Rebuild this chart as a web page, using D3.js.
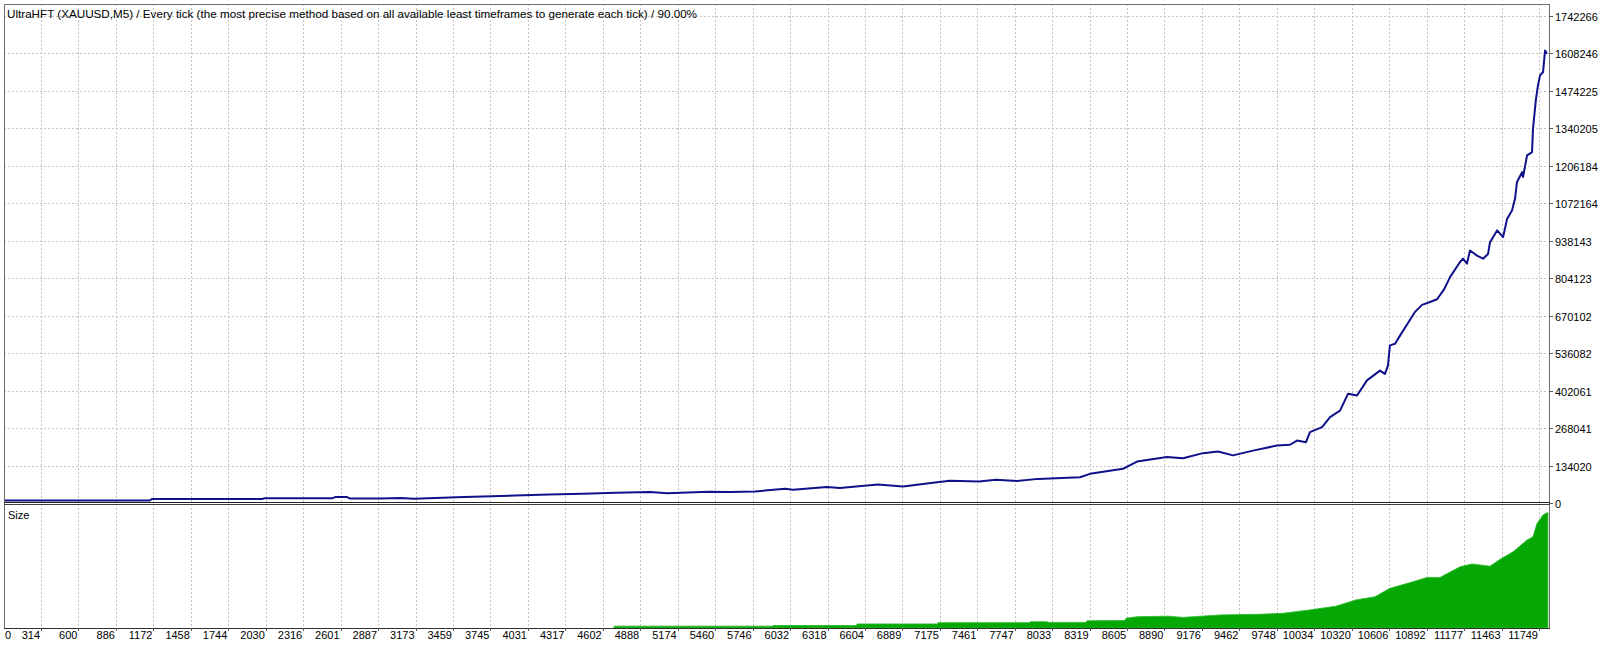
<!DOCTYPE html>
<html>
<head>
<meta charset="utf-8">
<script src="https://cdn.jsdelivr.net/npm/d3@7/dist/d3.min.js"></script>
<style>
  html, body { margin: 0; padding: 0; background: #fff; }
  svg text { font-family: "Liberation Sans", Arial, sans-serif; font-size: 11px; fill: #000; }
</style>
</head>
<body>
<svg id="chart" width="1600" height="646"></svg>
<script>
// title of the tester report
var title = "UltraHFT (XAUUSD,M5) / Every tick (the most precise method based on all available least timeframes to generate each tick) / 90.00%";

// trade numbers printed under the chart
var tradeTicks = [0, 314, 600, 886, 1172, 1458, 1744, 2030, 2316, 2601, 2887, 3173, 3459, 3745, 4031, 4317,
  4602, 4888, 5174, 5460, 5746, 6032, 6318, 6604, 6889, 7175, 7461, 7747, 8033, 8319, 8605, 8890, 9176,
  9462, 9748, 10034, 10320, 10606, 10892, 11177, 11463, 11749];

// balance labels on the right
var balanceTicks = [0, 134020, 268041, 402061, 536082, 670102, 804123, 938143, 1072164, 1206184,
  1340205, 1474225, 1608246, 1742266];

// [trade, balance]
var balance = [
  [0, 5500], [1140, 5500], [1160, 10700], [2000, 10700], [2020, 14000], [2540, 14000], [2560, 18000],
  [2650, 18000], [2670, 13000], [2902, 12500], [3062, 15000], [3161, 12000], [3543, 17900], [3932, 23600],
  [4192, 27000], [4451, 29700], [4703, 33000], [4963, 35700], [5093, 32000], [5413, 36800], [5573, 35700],
  [5764, 38000], [5993, 47500], [6054, 44000], [6314, 53600], [6413, 50000], [6703, 63000], [6894, 55800],
  [7123, 69000], [7253, 76000], [7474, 73600], [7604, 79700], [7764, 75000], [7925, 83000], [8245, 89000],
  [8322, 101000], [8573, 119000], [8680, 145000], [8909, 161000], [9032, 157000], [9184, 175000],
  [9299, 181000], [9413, 167000], [9566, 184000], [9749, 202000], [9848, 205000], [9902, 220000],
  [9970, 214000], [10001, 250000], [10093, 268000], [10154, 304000], [10230, 327000], [10291, 387000],
  [10360, 381000], [10436, 435000], [10535, 470000], [10573, 458000], [10596, 488000], [10611, 560000],
  [10650, 566000], [10688, 595000], [10749, 640000], [10803, 680000], [10856, 705000], [10917, 715000],
  [10971, 725000], [11024, 760000], [11070, 804000], [11146, 858000], [11169, 870000], [11199, 852000],
  [11222, 899000], [11276, 881000], [11322, 870000], [11360, 887000], [11375, 929000], [11429, 971000],
  [11475, 947000], [11505, 1012000], [11543, 1042000], [11566, 1084000], [11581, 1144000],
  [11620, 1179000], [11627, 1162000], [11658, 1239000], [11696, 1251000], [11703, 1334000],
  [11726, 1441000], [11741, 1489000], [11757, 1525000], [11780, 1537000], [11795, 1614000],
  [11810, 1602000]
];

// [trade, lots] for the size panel
var sizes = [
  [4688, 0.3], [5900, 0.3], [5902, 0.4], [6540, 0.4], [6543, 0.65], [7158, 0.65], [7161, 0.85],
  [7860, 0.85], [7864, 1.0], [7990, 1.0], [8009, 0.9], [8290, 0.9], [8299, 1.15], [8590, 1.2],
  [8596, 1.55], [8680, 1.8], [8917, 1.9], [9032, 1.7], [9322, 2.1], [9619, 2.2], [9795, 2.35],
  [10001, 2.9], [10199, 3.5], [10352, 4.5], [10497, 5.0], [10611, 6.35], [10787, 7.4], [10894, 8.1],
  [10993, 8.1], [11146, 9.8], [11238, 10.25], [11375, 9.9], [11452, 11.0], [11551, 12.2], [11658, 14.1],
  [11703, 14.6], [11734, 16.75], [11780, 18.1], [11810, 18.45], [11817, 18.45]
];

var svg = d3.select("#chart");

// frame edges (avoid "top", it's window.top)
var frameL = 4, frameR = 1549, frameT = 4, split = 503, frameB = 628;

// gridlines are evenly spaced, 314 and 11749 pin the scale
var x = d3.scaleLinear().domain([314, 11749]).range([41, 1539]);
var y = d3.scaleLinear().domain([0, 1742266]).range([503.3, 15.8]);
var ySize = d3.scaleLinear().domain([0, 19.7]).range([frameB, 505]);

var grid = svg.append("g").attr("class", "grid")
  .attr("stroke", "#c4c4c4").attr("stroke-dasharray", "2,2").attr("shape-rendering", "crispEdges");

// vertical gridlines through both panels
grid.selectAll("line.v").data(tradeTicks.slice(1)).enter().append("line")
  .attr("class", "v")
  .attr("x1", function(d){ return Math.round(x(d)) + 0.5; })
  .attr("x2", function(d){ return Math.round(x(d)) + 0.5; })
  .attr("y1", frameT).attr("y2", frameB);

// horizontal gridlines, upper panel only
grid.selectAll("line.h").data(balanceTicks.slice(1)).enter().append("line")
  .attr("class", "h")
  .attr("x1", frameL).attr("x2", frameR)
  .attr("y1", function(d){ return Math.round(y(d)) + 0.5; })
  .attr("y2", function(d){ return Math.round(y(d)) + 0.5; });

// clip so the curve stays inside the frame
svg.append("clipPath").attr("id", "upper").append("rect")
  .attr("x", frameL + 1).attr("y", frameT).attr("width", frameR - frameL - 1).attr("height", split - frameT);

// size histogram
var area = d3.area()
  .x(function(d){ return x(d[0]); })
  .y0(frameB)
  .y1(function(d){ return ySize(d[1]); });

svg.append("path").datum(sizes)
  .attr("d", area)
  .attr("fill", "#05a705")
  .attr("stroke", "#22b822")
  .attr("stroke-width", 0.8);

// balance curve
var line = d3.line()
  .x(function(d){ return x(d[0]); })
  .y(function(d){ return y(d[1]) - 1.2; });

svg.append("path").datum(balance)
  .attr("d", line)
  .attr("clip-path", "url(#upper)")
  .attr("fill", "none")
  .attr("stroke", "#10108c")
  .attr("stroke-width", 2)
  .attr("stroke-linejoin", "round");

// frame
var frame = svg.append("g").attr("fill", "none").attr("shape-rendering", "crispEdges");
frame.append("path")
  .attr("d", "M" + (frameL + 0.5) + "," + frameB + "V" + (frameT + 0.5) + "H" + (frameR + 0.5) + "V" + frameB)
  .attr("stroke", "#6e6e6e");
frame.append("line")
  .attr("x1", frameL).attr("x2", frameR + 1).attr("y1", frameB + 0.5).attr("y2", frameB + 0.5)
  .attr("stroke", "#303030");
frame.append("line")
  .attr("x1", frameL).attr("x2", frameR + 1).attr("y1", split - 0.5).attr("y2", split - 0.5)
  .attr("stroke", "#202020");
frame.append("line")
  .attr("x1", frameL).attr("x2", frameR + 1).attr("y1", split + 1.5).attr("y2", split + 1.5)
  .attr("stroke", "#404040");

// right axis: ticks and labels
var yAxis = svg.append("g");
yAxis.selectAll("line").data(balanceTicks).enter().append("line")
  .attr("x1", frameR + 1).attr("x2", frameR + 4)
  .attr("y1", function(d){ return Math.round(y(d)) + 0.5; })
  .attr("y2", function(d){ return Math.round(y(d)) + 0.5; })
  .attr("stroke", "#555").attr("shape-rendering", "crispEdges");
yAxis.selectAll("text").data(balanceTicks).enter().append("text")
  .text(function(d){ return d; })
  .attr("x", frameR + 6)
  .attr("y", function(d){ return y(d) + 5; });

// bottom axis: labels end at their gridline
var xAxis = svg.append("g");
xAxis.selectAll("line").data(tradeTicks.slice(1)).enter().append("line")
  .attr("x1", function(d){ return Math.round(x(d)) + 0.5; })
  .attr("x2", function(d){ return Math.round(x(d)) + 0.5; })
  .attr("y1", frameB).attr("y2", frameB + 3)
  .attr("stroke", "#555").attr("shape-rendering", "crispEdges");
xAxis.selectAll("text").data(tradeTicks).enter().append("text")
  .text(function(d){ return d; })
  .attr("text-anchor", function(d, i){ return i == 0 ? "start" : "end"; })
  .attr("x", function(d, i){ return i == 0 ? 5 : x(d) - 1; })
  .attr("y", 639);

svg.append("text").text(title).attr("x", 7).attr("y", 18)
  .attr("textLength", 690).attr("lengthAdjust", "spacingAndGlyphs");
svg.append("text").text("Size").attr("x", 8).attr("y", 519);
</script>
</body>
</html>
